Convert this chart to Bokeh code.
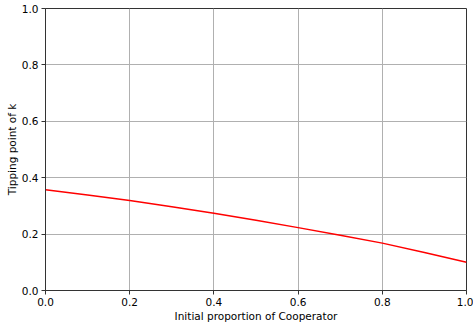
from bokeh.plotting import figure
from bokeh.embed import file_html
from bokeh.resources import INLINE
from bokeh.models import Range1d, FixedTicker, CustomJSTickFormatter

x_vals = [0.0, 0.1, 0.2, 0.3, 0.4, 0.5, 0.6, 0.7, 0.8, 0.9, 1.0]
tipping_k = [0.357, 0.339, 0.319, 0.297, 0.274, 0.249, 0.223, 0.196, 0.168, 0.135, 0.100]
ticks = [0.0, 0.2, 0.4, 0.6, 0.8, 1.0]

p = figure(width=473, height=326, output_backend="svg", toolbar_location=None,
           x_range=Range1d(0, 1), y_range=Range1d(0, 1),
           min_border_left=45, min_border_right=7, min_border_top=8, min_border_bottom=36)
p.line(x_vals, tipping_k, line_color="red", line_width=1.5)

p.outline_line_color = "#333333"
p.outline_line_width = 1
fmt = CustomJSTickFormatter(code="return tick.toFixed(1);")
for ax in (p.xaxis, p.yaxis):
    ax.ticker = FixedTicker(ticks=ticks)
    ax.formatter = fmt
    ax.major_label_text_font = "DejaVu Sans"
    ax.major_label_text_font_size = "10.5px"
    ax.major_label_text_color = "black"
    ax.axis_label_text_font = "DejaVu Sans"
    ax.axis_label_text_font_size = "10.5px"
    ax.axis_label_text_font_style = "normal"
    ax.axis_label_text_color = "black"
    ax.axis_line_color = "#333333"
    ax.major_tick_line_color = "#333333"
    ax.major_tick_out = 4
    ax.major_tick_in = 0
    ax.minor_tick_line_color = None
    ax.axis_label_standoff = 1
    ax.major_label_standoff = 3

p.xaxis.axis_label = "Initial proportion of Cooperator"
p.yaxis.axis_label = "Tipping point of k"

p.xgrid.grid_line_color = "#b0b0b0"
p.ygrid.grid_line_color = "#b0b0b0"
p.xgrid.grid_line_width = 1
p.ygrid.grid_line_width = 1
p.xgrid.ticker = FixedTicker(ticks=ticks)
p.ygrid.ticker = FixedTicker(ticks=ticks)
p.background_fill_color = "white"
p.border_fill_color = "white"

open("out.html", "w").write(file_html(p, INLINE))
